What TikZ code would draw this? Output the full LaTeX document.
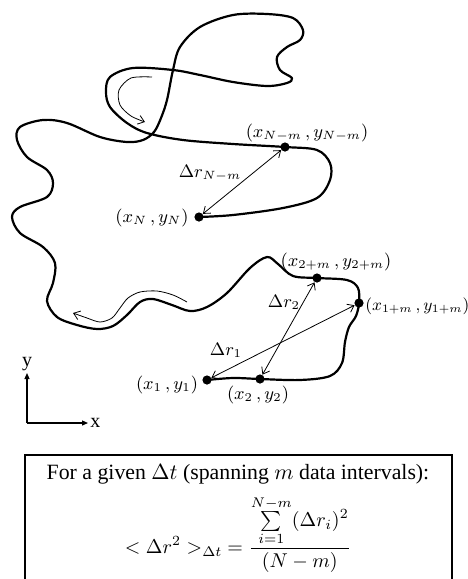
\documentclass[tikz,border=0pt]{standalone}
\usepackage{fontspec}
\setmainfont{Liberation Serif}
\usetikzlibrary{arrows.meta}
\begin{document}
\begin{tikzpicture}[x=0.5pt,y=-0.5pt,
  traj/.style={line width=1.1pt, line cap=round, line join=round},
  darrow/.style={line width=0.4pt, {Straight Barb[length=3pt,width=4.5pt]}-{Straight Barb[length=3pt,width=4.5pt]}},
  sarrow/.style={line width=0.4pt, -{Straight Barb[length=3pt,width=4.5pt]}},
  axis/.style={line width=0.6pt, -{Triangle[length=3pt,width=2.5pt]}},
  dot/.style={circle, fill=black, inner sep=0pt, minimum size=4.6pt},
  lab/.style={font=\fontsize{9}{11}\selectfont, inner sep=0pt},
  axlab/.style={font=\fontsize{10}{12}\selectfont, inner sep=0pt},
  boxtext/.style={font=\fontsize{10.9}{13}\selectfont, inner sep=0pt},
  formula/.style={font=\fontsize{10}{12}\selectfont, inner sep=0pt},
]
\useasboundingbox (0,0) rectangle (467,579);

% trajectory points
\coordinate (p1) at (207,380);
\coordinate (p2) at (260,379);
\coordinate (p1m) at (359,303);
\coordinate (p2m) at (317,278);
\coordinate (pNm) at (285,147);
\coordinate (pN) at (199,217);

\draw[traj] plot[smooth, tension=0.55] coordinates {
 (p1) (233,378) (p2) (300,380) (330,376) (342,363) (345,342) (349,327) (356,316) (p1m)
 (358,288) (347,280) (p2m) (293,276) (278,264) (267,257) (250,268) (227,293) (207,307)
 (190,311) (172,305) (153,299) (140,302) (127,315) (113,326) (97,329) (77,325) (57,317)
 (47,301) (53,283) (55,263) (43,247) (20,233) (12,217) (20,207) (47,197) (53,183) (47,170)
 (27,157) (17,140) (20,127) (43,120) (67,123) (100,137) (127,142) (143,140) (154,132)
 (161,118) (167,100) (173,70) (180,47) (200,27) (233,15) (267,14) (293,18) (303,30)
 (300,40) (287,47) (277,57) (280,70) (292,78) (287,83) (267,86) (233,82) (200,75)
 (173,70) (133,68) (110,77) (106,92) (110,107) (127,123) (147,133) (183,140) (233,144)
 (pNm) (317,150) (330,163) (330,180) (317,198) (283,208) (233,215) (pN)};

% dots
\node[dot] (d1) at (p1) {};
\node[dot] (d2) at (p2) {};
\node[dot] (d1m) at (p1m) {};
\node[dot] (d2m) at (p2m) {};
\node[dot] (dNm) at (pNm) {};
\node[dot] (dN) at (pN) {};

% displacement arrows
\draw[darrow] (dNm) -- (dN);
\draw[darrow] (d2m) -- (d2);
\draw[darrow] (d1m) -- (d1);

% direction arrows
\draw[sarrow] plot[smooth] coordinates {(152,77) (131,78) (119,90) (120,105) (131,116) (145,122)};
\draw[sarrow] plot[smooth] coordinates {(187,302) (173,295) (157,291) (140,292) (128,298) (120,308) (112,318) (100,322) (87,318) (73,313)};

% labels
\node[lab] (lNm) at (307,133) {$(x_{N-m}\,,y_{N-m})$};
\node[lab] (lrNm) at (210,173) {$\Delta r_{N-m}$};
\node[lab] (lN) at (152,218) {$(x_N\,,y_N)$};
\node[lab] (l2m) at (336,262) {$(x_{2+m}\,,y_{2+m})$};
\node[lab] (lr2) at (284,302) {$\Delta r_2$};
\node[lab, anchor=west] (l1m) at (365,306) {\scalebox{0.94}{$(x_{1+m}\,,y_{1+m})$}};
\node[lab] (lr1) at (226,350) {$\Delta r_1$};
\node[lab] (l1) at (167,385) {$(x_1\,,y_1)$};
\node[lab] (l2) at (258,395) {$(x_2\,,y_2)$};

% axes
\coordinate (o) at (27,423);
\coordinate (ya) at (27,373);
\coordinate (xa) at (88,423);
\draw[axis] (o) -- (ya);
\draw[axis] (o) -- (xa);
\node[axlab, anchor=south] (ly) at ([yshift=1pt]ya) {y};
\node[axlab, anchor=west] (lx) at ([xshift=1pt]xa) {x};

% formula box
\draw[line width=0.65pt] (25,579) -- (25,455) -- (452,455) -- (452,579);
\node[boxtext] (t1) at (238,474) {For a given $\Delta t$ (spanning $m$ data intervals):};
\node[formula] (f) at (238,534) {$\displaystyle <\Delta r^2>_{\Delta t}\ = \frac{\sum\limits_{i=1}^{N-m}(\Delta r_i)^2}{(N-m)}$};
\end{tikzpicture}
\end{document}
